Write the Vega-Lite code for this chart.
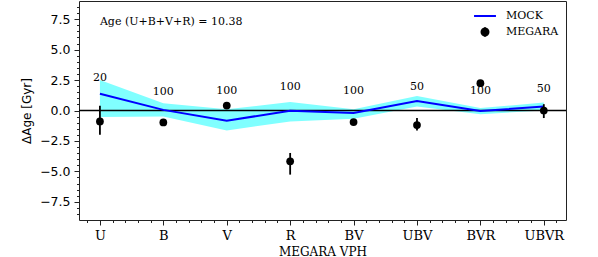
{
  "$schema": "https://vega.github.io/schema/vega-lite/v6.json",
  "width": 487,
  "height": 219,
  "autosize": {"type": "none"},
  "padding": {"left": 79, "top": 1, "right": 32, "bottom": 37},
  "background": "white",
  "config": {
    "view": {"stroke": "#222", "strokeWidth": 1},
    "axis": {"grid": false, "domain": false, "tickColor": "#222", "labelColor": "black", "titleColor": "black", "titleFontWeight": "normal", "labelOverlap": false, "labelBound": false, "labelFlush": false},
    "axisX": {"titleFont": "DejaVu Serif", "titleFontSize": 12, "titlePadding": 4, "labelFont": "DejaVu Serif", "labelFontSize": 13, "labelPadding": 4},
    "axisY": {"titleFont": "DejaVu Sans", "titleFontSize": 12, "titlePadding": 6, "labelFont": "DejaVu Sans", "labelFontSize": 12.5, "labelPadding": 4}
  },
  "datasets": {
    "vph": [
      {"vph": "U", "idx": 0, "mock": 1.37, "lo": -0.54, "hi": 2.5, "megara": -0.9, "err_lo": -2.0, "err_hi": 0.39, "n": "20", "label_y": 2.66},
      {"vph": "B", "idx": 1, "mock": 0.05, "lo": -0.49, "hi": 0.6, "megara": -0.98, "err_lo": -1.08, "err_hi": -0.88, "n": "100", "label_y": 1.56},
      {"vph": "V", "idx": 2, "mock": -0.84, "lo": -1.64, "hi": 0.11, "megara": 0.41, "err_lo": 0.31, "err_hi": 0.51, "n": "100", "label_y": 1.61},
      {"vph": "R", "idx": 3, "mock": -0.02, "lo": -0.9, "hi": 0.69, "megara": -4.18, "err_lo": -5.27, "err_hi": -3.49, "n": "100", "label_y": 1.96},
      {"vph": "BV", "idx": 4, "mock": -0.21, "lo": -0.68, "hi": 0.11, "megara": -0.95, "err_lo": -1.05, "err_hi": -0.85, "n": "100", "label_y": 1.61},
      {"vph": "UBV", "idx": 5, "mock": 0.77, "lo": 0.33, "hi": 1.2, "megara": -1.2, "err_lo": -1.64, "err_hi": -0.62, "n": "50", "label_y": 1.96},
      {"vph": "BVR", "idx": 6, "mock": -0.04, "lo": -0.3, "hi": 0.2, "megara": 2.25, "err_lo": 2.15, "err_hi": 2.35, "n": "100", "label_y": 1.63},
      {"vph": "UBVR", "idx": 7, "mock": 0.33, "lo": 0.0, "hi": 0.66, "megara": 0.0, "err_lo": -0.62, "err_hi": 0.52, "n": "50", "label_y": 1.78}
    ],
    "notes": [
      {"note": "Age (U+B+V+R) = 10.38", "idx": 0, "ny": 7.3}
    ],
    "zero": [
      {"y0": 0}
    ]
  },
  "layer": [
    {
      "data": {"name": "vph"},
      "mark": {"type": "area", "color": "#80ffff", "opacity": 1},
      "encoding": {
        "x": {"field": "idx", "type": "quantitative", "scale": {"domain": [-0.33, 7.35], "nice": false, "zero": false},
          "axis": {"title": "MEGARA VPH", "values": [-0.2, 0, 0.2, 0.4, 0.6, 0.8, 1, 1.2, 1.4, 1.6, 1.8, 2, 2.2, 2.4, 2.6, 2.8, 3, 3.2, 3.4, 3.6, 3.8, 4, 4.2, 4.4, 4.6, 4.8, 5, 5.2, 5.4, 5.6, 5.8, 6, 6.2, 6.4, 6.6, 6.8, 7, 7.2],
            "labelExpr": "abs(datum.value - round(datum.value)) < 0.01 ? ['U','B','V','R','BV','UBV','BVR','UBVR'][round(datum.value)] : ''",
            "tickSize": {"condition": {"test": "abs(datum.value - round(datum.value)) < 0.01", "value": 5}, "value": 2.5}}},
        "y": {"field": "lo", "type": "quantitative", "scale": {"domain": [-9, 9], "nice": false, "zero": false},
          "axis": {"title": "ΔAge [Gyr]", "values": [-8.5, -8, -7.5, -7, -6.5, -6, -5.5, -5, -4.5, -4, -3.5, -3, -2.5, -2, -1.5, -1, -0.5, 0, 0.5, 1, 1.5, 2, 2.5, 3, 3.5, 4, 4.5, 5, 5.5, 6, 6.5, 7, 7.5, 8, 8.5],
            "labelExpr": "abs(datum.value/2.5 - round(datum.value/2.5)) < 0.01 ? format(datum.value, '.1f') : ''",
            "tickSize": {"condition": {"test": "abs(datum.value/2.5 - round(datum.value/2.5)) < 0.01", "value": 5}, "value": 2.5}}},
        "y2": {"field": "hi"}
      }
    },
    {
      "data": {"name": "zero"},
      "mark": {"type": "rule", "color": "black", "strokeWidth": 1.6},
      "encoding": {
        "y": {"field": "y0", "type": "quantitative",
          "axis": {"title": "ΔAge [Gyr]", "values": [-8.5, -8, -7.5, -7, -6.5, -6, -5.5, -5, -4.5, -4, -3.5, -3, -2.5, -2, -1.5, -1, -0.5, 0, 0.5, 1, 1.5, 2, 2.5, 3, 3.5, 4, 4.5, 5, 5.5, 6, 6.5, 7, 7.5, 8, 8.5],
            "labelExpr": "abs(datum.value/2.5 - round(datum.value/2.5)) < 0.01 ? format(datum.value, '.1f') : ''",
            "tickSize": {"condition": {"test": "abs(datum.value/2.5 - round(datum.value/2.5)) < 0.01", "value": 5}, "value": 2.5}}}
      }
    },
    {
      "data": {"name": "vph"},
      "mark": {"type": "line", "strokeWidth": 2},
      "encoding": {
        "x": {"field": "idx", "type": "quantitative",
          "axis": {"title": "MEGARA VPH", "values": [-0.2, 0, 0.2, 0.4, 0.6, 0.8, 1, 1.2, 1.4, 1.6, 1.8, 2, 2.2, 2.4, 2.6, 2.8, 3, 3.2, 3.4, 3.6, 3.8, 4, 4.2, 4.4, 4.6, 4.8, 5, 5.2, 5.4, 5.6, 5.8, 6, 6.2, 6.4, 6.6, 6.8, 7, 7.2],
            "labelExpr": "abs(datum.value - round(datum.value)) < 0.01 ? ['U','B','V','R','BV','UBV','BVR','UBVR'][round(datum.value)] : ''",
            "tickSize": {"condition": {"test": "abs(datum.value - round(datum.value)) < 0.01", "value": 5}, "value": 2.5}}},
        "y": {"field": "mock", "type": "quantitative",
          "axis": {"title": "ΔAge [Gyr]", "values": [-8.5, -8, -7.5, -7, -6.5, -6, -5.5, -5, -4.5, -4, -3.5, -3, -2.5, -2, -1.5, -1, -0.5, 0, 0.5, 1, 1.5, 2, 2.5, 3, 3.5, 4, 4.5, 5, 5.5, 6, 6.5, 7, 7.5, 8, 8.5],
            "labelExpr": "abs(datum.value/2.5 - round(datum.value/2.5)) < 0.01 ? format(datum.value, '.1f') : ''",
            "tickSize": {"condition": {"test": "abs(datum.value/2.5 - round(datum.value/2.5)) < 0.01", "value": 5}, "value": 2.5}}},
        "color": {
          "datum": "MOCK",
          "type": "nominal",
          "scale": {"domain": ["MOCK"], "range": ["#0000ff"]},
          "legend": {"title": null, "orient": "none", "legendX": 394, "legendY": 3, "padding": 0, "symbolType": "stroke", "symbolSize": 480, "symbolStrokeWidth": 2, "labelFont": "DejaVu Serif", "labelFontSize": 11, "labelColor": "black", "labelOffset": 9}
        }
      }
    },
    {
      "data": {"name": "vph"},
      "mark": {"type": "rule", "color": "black", "strokeWidth": 1.8},
      "encoding": {
        "x": {"field": "idx", "type": "quantitative",
          "axis": {"title": "MEGARA VPH", "values": [-0.2, 0, 0.2, 0.4, 0.6, 0.8, 1, 1.2, 1.4, 1.6, 1.8, 2, 2.2, 2.4, 2.6, 2.8, 3, 3.2, 3.4, 3.6, 3.8, 4, 4.2, 4.4, 4.6, 4.8, 5, 5.2, 5.4, 5.6, 5.8, 6, 6.2, 6.4, 6.6, 6.8, 7, 7.2],
            "labelExpr": "abs(datum.value - round(datum.value)) < 0.01 ? ['U','B','V','R','BV','UBV','BVR','UBVR'][round(datum.value)] : ''",
            "tickSize": {"condition": {"test": "abs(datum.value - round(datum.value)) < 0.01", "value": 5}, "value": 2.5}}},
        "y": {"field": "err_lo", "type": "quantitative",
          "axis": {"title": "ΔAge [Gyr]", "values": [-8.5, -8, -7.5, -7, -6.5, -6, -5.5, -5, -4.5, -4, -3.5, -3, -2.5, -2, -1.5, -1, -0.5, 0, 0.5, 1, 1.5, 2, 2.5, 3, 3.5, 4, 4.5, 5, 5.5, 6, 6.5, 7, 7.5, 8, 8.5],
            "labelExpr": "abs(datum.value/2.5 - round(datum.value/2.5)) < 0.01 ? format(datum.value, '.1f') : ''",
            "tickSize": {"condition": {"test": "abs(datum.value/2.5 - round(datum.value/2.5)) < 0.01", "value": 5}, "value": 2.5}}},
        "y2": {"field": "err_hi"}
      }
    },
    {
      "data": {"name": "vph"},
      "mark": {"type": "point", "filled": true, "size": 60, "opacity": 1, "shape": "circle"},
      "encoding": {
        "x": {"field": "idx", "type": "quantitative",
          "axis": {"title": "MEGARA VPH", "values": [-0.2, 0, 0.2, 0.4, 0.6, 0.8, 1, 1.2, 1.4, 1.6, 1.8, 2, 2.2, 2.4, 2.6, 2.8, 3, 3.2, 3.4, 3.6, 3.8, 4, 4.2, 4.4, 4.6, 4.8, 5, 5.2, 5.4, 5.6, 5.8, 6, 6.2, 6.4, 6.6, 6.8, 7, 7.2],
            "labelExpr": "abs(datum.value - round(datum.value)) < 0.01 ? ['U','B','V','R','BV','UBV','BVR','UBVR'][round(datum.value)] : ''",
            "tickSize": {"condition": {"test": "abs(datum.value - round(datum.value)) < 0.01", "value": 5}, "value": 2.5}}},
        "y": {"field": "megara", "type": "quantitative",
          "axis": {"title": "ΔAge [Gyr]", "values": [-8.5, -8, -7.5, -7, -6.5, -6, -5.5, -5, -4.5, -4, -3.5, -3, -2.5, -2, -1.5, -1, -0.5, 0, 0.5, 1, 1.5, 2, 2.5, 3, 3.5, 4, 4.5, 5, 5.5, 6, 6.5, 7, 7.5, 8, 8.5],
            "labelExpr": "abs(datum.value/2.5 - round(datum.value/2.5)) < 0.01 ? format(datum.value, '.1f') : ''",
            "tickSize": {"condition": {"test": "abs(datum.value/2.5 - round(datum.value/2.5)) < 0.01", "value": 5}, "value": 2.5}}},
        "fill": {
          "datum": "MEGARA",
          "type": "nominal",
          "scale": {"domain": ["MEGARA"], "range": ["black"]},
          "legend": {"title": null, "orient": "none", "legendX": 400, "legendY": 25, "padding": 0,
            "symbolType": "M0,-1L0,1M-0.75,0A0.75,0.75,0,1,1,0.75,0A0.75,0.75,0,1,1,-0.75,0Z",
            "symbolSize": 100, "symbolFillColor": "black", "symbolStrokeColor": "black", "symbolStrokeWidth": 1.5, "symbolOpacity": 1,
            "labelFont": "DejaVu Serif", "labelFontSize": 11, "labelColor": "black", "labelOffset": 15}
        }
      }
    },
    {
      "data": {"name": "vph"},
      "mark": {"type": "text", "font": "DejaVu Serif", "fontSize": 11, "color": "black", "baseline": "middle", "align": "center"},
      "encoding": {
        "x": {"field": "idx", "type": "quantitative",
          "axis": {"title": "MEGARA VPH", "values": [-0.2, 0, 0.2, 0.4, 0.6, 0.8, 1, 1.2, 1.4, 1.6, 1.8, 2, 2.2, 2.4, 2.6, 2.8, 3, 3.2, 3.4, 3.6, 3.8, 4, 4.2, 4.4, 4.6, 4.8, 5, 5.2, 5.4, 5.6, 5.8, 6, 6.2, 6.4, 6.6, 6.8, 7, 7.2],
            "labelExpr": "abs(datum.value - round(datum.value)) < 0.01 ? ['U','B','V','R','BV','UBV','BVR','UBVR'][round(datum.value)] : ''",
            "tickSize": {"condition": {"test": "abs(datum.value - round(datum.value)) < 0.01", "value": 5}, "value": 2.5}}},
        "y": {"field": "label_y", "type": "quantitative",
          "axis": {"title": "ΔAge [Gyr]", "values": [-8.5, -8, -7.5, -7, -6.5, -6, -5.5, -5, -4.5, -4, -3.5, -3, -2.5, -2, -1.5, -1, -0.5, 0, 0.5, 1, 1.5, 2, 2.5, 3, 3.5, 4, 4.5, 5, 5.5, 6, 6.5, 7, 7.5, 8, 8.5],
            "labelExpr": "abs(datum.value/2.5 - round(datum.value/2.5)) < 0.01 ? format(datum.value, '.1f') : ''",
            "tickSize": {"condition": {"test": "abs(datum.value/2.5 - round(datum.value/2.5)) < 0.01", "value": 5}, "value": 2.5}}},
        "text": {"field": "n", "type": "nominal"}
      }
    },
    {
      "data": {"name": "notes"},
      "mark": {"type": "text", "font": "DejaVu Serif", "fontSize": 11, "color": "black", "baseline": "middle", "align": "left"},
      "encoding": {
        "x": {"field": "idx", "type": "quantitative",
          "axis": {"title": "MEGARA VPH", "values": [-0.2, 0, 0.2, 0.4, 0.6, 0.8, 1, 1.2, 1.4, 1.6, 1.8, 2, 2.2, 2.4, 2.6, 2.8, 3, 3.2, 3.4, 3.6, 3.8, 4, 4.2, 4.4, 4.6, 4.8, 5, 5.2, 5.4, 5.6, 5.8, 6, 6.2, 6.4, 6.6, 6.8, 7, 7.2],
            "labelExpr": "abs(datum.value - round(datum.value)) < 0.01 ? ['U','B','V','R','BV','UBV','BVR','UBVR'][round(datum.value)] : ''",
            "tickSize": {"condition": {"test": "abs(datum.value - round(datum.value)) < 0.01", "value": 5}, "value": 2.5}}},
        "y": {"field": "ny", "type": "quantitative",
          "axis": {"title": "ΔAge [Gyr]", "values": [-8.5, -8, -7.5, -7, -6.5, -6, -5.5, -5, -4.5, -4, -3.5, -3, -2.5, -2, -1.5, -1, -0.5, 0, 0.5, 1, 1.5, 2, 2.5, 3, 3.5, 4, 4.5, 5, 5.5, 6, 6.5, 7, 7.5, 8, 8.5],
            "labelExpr": "abs(datum.value/2.5 - round(datum.value/2.5)) < 0.01 ? format(datum.value, '.1f') : ''",
            "tickSize": {"condition": {"test": "abs(datum.value/2.5 - round(datum.value/2.5)) < 0.01", "value": 5}, "value": 2.5}}},
        "text": {"field": "note", "type": "nominal"}
      }
    }
  ]
}
